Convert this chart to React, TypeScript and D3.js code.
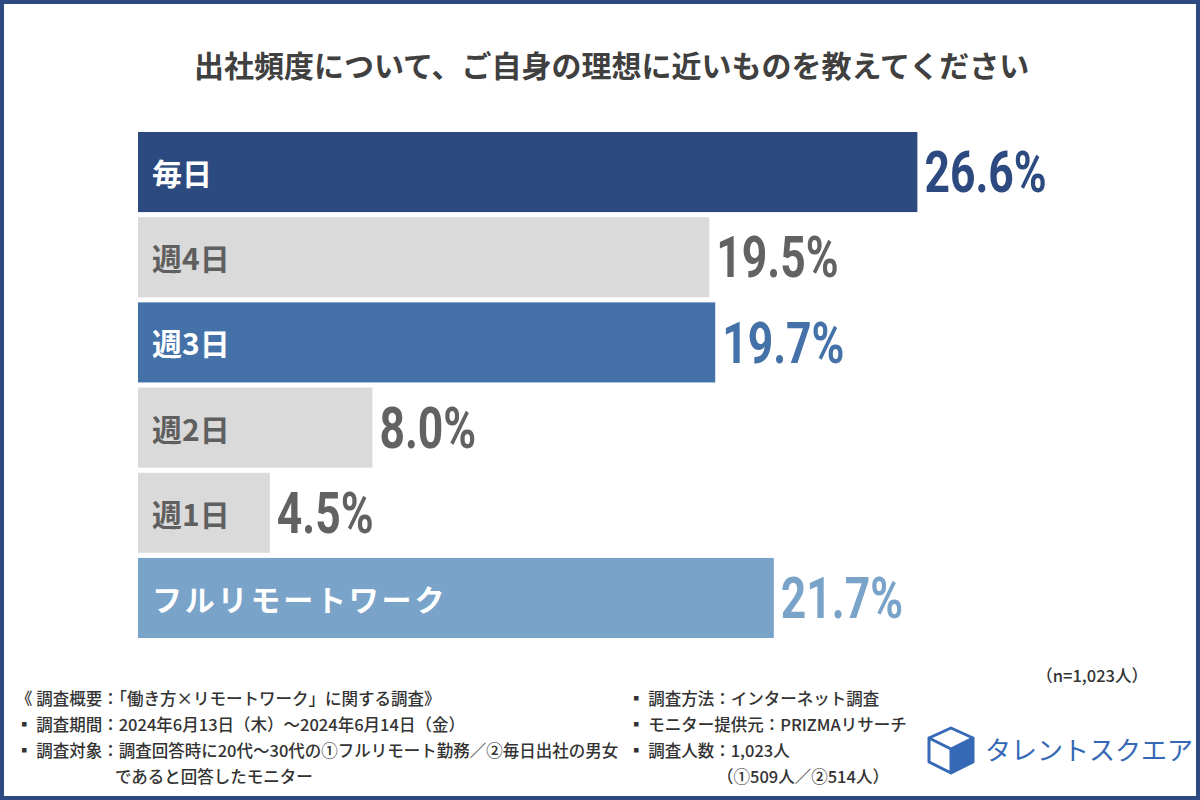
import React from "react";
import * as d3 from "d3";

const title = "出社頻度について、ご自身の理想に近いものを教えてください";
const categories = ["毎日", "週4日", "週3日", "週2日", "週1日", "フルリモートワーク"];
const values = [26.6, 19.5, 19.7, 8.0, 4.5, 21.7];
const barColors = ["#2c4a7f", "#dadada", "#4472a8", "#dadada", "#dadada", "#79a3c9"];
const catColors = ["#ffffff", "#5f5f5f", "#ffffff", "#5f5f5f", "#5f5f5f", "#ffffff"];
const valColors = ["#2c4a7f", "#626262", "#4472a8", "#626262", "#626262", "#79a3c9"];

const footerLeft = [
  "《 調査概要：「働き方×リモートワーク」に関する調査》",
  "▪ 調査期間：2024年6月13日（木）～2024年6月14日（金）",
  "▪ 調査対象：調査回答時に20代～30代の①フルリモート勤務／②毎日出社の男女",
];
const footerLeftCont = "であると回答したモニター";
const footerRight = [
  "▪ 調査方法：インターネット調査",
  "▪ モニター提供元：PRIZMAリサーチ",
  "▪ 調査人数：1,023人",
];
const footerRightCont = "（①509人／②514人）";
const sampleNote = "（n=1,023人）";
const logoText = "タレントスクエア";

const W = 1200;
const H = 800;
const JP = "'Noto Sans CJK JP', 'Noto Sans', sans-serif";

export default function App() {
  const x = d3.scaleLinear().domain([0, 30]).range([138, 1017]);
  const y = d3
    .scaleBand<string>()
    .domain(categories)
    .range([132, 638])
    .paddingInner(0.06)
    .paddingOuter(0);
  const bw = y.bandwidth();
  const fs = 57;
  const lineY = [698, 724, 750];

  return (
    <svg
      width={W}
      height={H}
      style={{ position: "absolute", left: 0, top: 0, display: "block" }}
    >
      <rect x={0} y={0} width={W} height={H} fill="#ffffff" />
      <rect x={2} y={2} width={W - 4} height={H - 4} fill="none" stroke="#2c4a7f" strokeWidth={4} />

      <text
        x={194}
        y={64}
        dominantBaseline="central"
        fontFamily={JP}
        fontWeight={700}
        fontSize={30}
        fill="#404040"
      >
        {title}
      </text>

      {categories.map((c, i) => {
        const top = y(c) as number;
        const cy = top + bw / 2;
        const vx = x(values[i]) + 7;
        return (
          <g key={c}>
            <rect x={x(0)} y={top} width={x(values[i]) - x(0)} height={bw} fill={barColors[i]} />
            <text
              x={152}
              y={cy}
              dominantBaseline="central"
              fontFamily={JP}
              fontWeight={700}
              fontSize={30}
              letterSpacing={c.length > 4 ? 2.8 : 0}
              fill={catColors[i]}
            >
              {c}
            </text>
            <text
              transform={`translate(${vx},${cy + 0.711 * fs / 2}) scale(0.78,1)`}
              fontFamily="Roboto, sans-serif"
              fontWeight={700}
              fontSize={fs}
              fill={valColors[i]}
            >
              {d3.format(".1f")(values[i])}%
            </text>
          </g>
        );
      })}

      <g fontFamily={JP} fontSize={16.5} fontWeight={500} fill="#333333">
        {footerLeft.map((t, i) => (
          <text key={t} x={16} y={lineY[i]} dominantBaseline="central">
            {t}
          </text>
        ))}
        <text x={115} y={776} dominantBaseline="central">
          {footerLeftCont}
        </text>
        {footerRight.map((t, i) => (
          <text key={t} x={628} y={lineY[i]} dominantBaseline="central">
            {t}
          </text>
        ))}
        <text x={717} y={776} dominantBaseline="central">
          {footerRightCont}
        </text>
        <text x={1148} y={675} dominantBaseline="central" textAnchor="end">
          {sampleNote}
        </text>
      </g>

      <g strokeLinejoin="round" strokeLinecap="round">
        <path d="M951,749 L973,738 L973,762 L951,773 Z" fill="#3568b5" />
        <path
          d="M951,728 L929,738 L929,762 L951,773 L973,762 L973,738 Z M929,738 L951,749 L973,738 M951,749 L951,773"
          fill="none"
          stroke="#3568b5"
          strokeWidth={3}
        />
      </g>
      <text
        x={985}
        y={748}
        dominantBaseline="central"
        fontFamily={JP}
        fontWeight={400}
        fontSize={26}
        fill="#3568b5"
      >
        {logoText}
      </text>
    </svg>
  );
}
